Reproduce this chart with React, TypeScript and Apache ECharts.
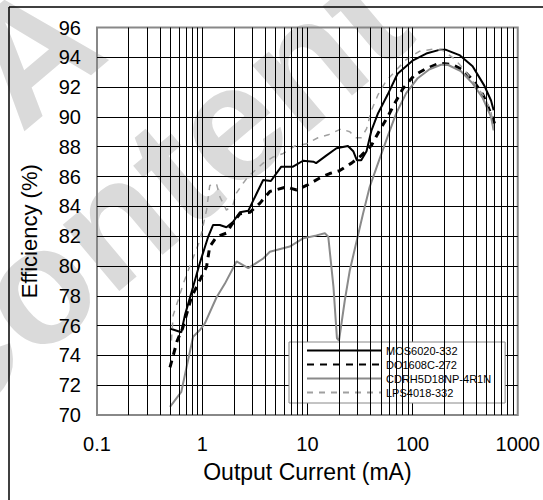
import React, { useEffect, useRef } from "react";
import * as echarts from "echarts";

const yTicks = { min: 70, max: 96, interval: 2 };
const xRange = { min: 0.1, max: 1000 };
const minorTickValues = [
  0.2, 0.3, 0.4, 0.5, 0.6, 0.7, 0.8, 0.9,
  2, 3, 4, 5, 6, 7, 8, 9,
  20, 30, 40, 50, 60, 70, 80, 90,
  200, 300, 400, 500, 600, 700, 800, 900,
];

const seriesNames = ["MOS6020-332", "DO1608C-272", "CDRH5D18NP-4R1N", "LPS4018-332"];

const mosX = [0.494, 0.633, 0.685, 0.82, 0.95, 1.14, 1.27, 1.47, 1.7, 1.96, 2.28, 2.74, 3.8, 4.5, 5.65, 7.3, 9.1, 11.4, 12.1, 15.1, 18.9, 24.3, 27.3, 29.5, 32.5, 36.5, 40.7, 47, 58, 72, 101, 135, 180, 208, 279, 372, 481, 557, 590];
const mosY = [75.8, 75.55, 76.7, 78.6, 80.2, 81.96, 82.75, 82.75, 82.6, 82.95, 83.6, 83.7, 85.77, 85.7, 86.66, 86.66, 87.06, 87.0, 86.9, 87.4, 87.9, 88.05, 87.7, 87.1, 87.1, 87.7, 89.1, 90.25, 91.5, 92.9, 93.8, 94.25, 94.5, 94.5, 94.15, 93.4, 92.1, 91.1, 90.45];

const doX = [0.494, 0.58, 0.65, 0.79, 1.1, 1.18, 1.37, 1.7, 1.9, 2.28, 2.84, 3.53, 4.4, 6.3, 7.9, 9.8, 13.1, 16.3, 20.3, 26.3, 32.5, 40.7, 48.6, 58, 67.5, 81, 104, 135, 180, 241, 302, 372, 466, 557, 610];
const doY = [73.2, 75.0, 75.8, 77.9, 79.95, 81.3, 81.96, 82.2, 82.75, 83.5, 83.6, 84.2, 85.0, 85.3, 85.1, 85.4, 85.9, 86.2, 86.4, 86.9, 87.4, 88.1, 89.1, 90.0, 90.9, 91.9, 92.8, 93.25, 93.6, 93.5, 93.15, 92.5, 91.5, 90.2, 89.45];

const cdX = [0.494, 0.633, 0.71, 0.82, 0.95, 1.06, 1.37, 1.64, 2.12, 2.74, 3.8, 4.4, 6.8, 9.1, 12.2, 14.65, 15.8, 17.7, 19.1, 20.0, 22.7, 25.3, 33.8, 39.1, 47, 58, 70, 87, 112, 145, 186, 216, 290, 372, 466, 557, 590];
const cdY = [70.55, 71.55, 73.2, 75.25, 75.7, 76.15, 77.9, 78.8, 80.3, 79.85, 80.5, 80.95, 81.3, 81.85, 82.05, 82.2, 81.96, 78.6, 75.15, 75.0, 77.7, 79.7, 83.5, 85.3, 86.9, 88.7, 90.25, 91.6, 92.6, 93.2, 93.5, 93.5, 93.05, 92.25, 91.25, 90.0, 89.1];

const lpsX = [0.51, 0.53, 0.59, 0.66, 0.76, 0.95, 1.1, 1.18, 1.37, 1.47, 1.7, 1.96, 2.12, 2.45, 2.74, 3.8, 4.7, 5.9, 7.6, 9.8, 12.6, 15.8, 21, 25.3, 29, 32.5, 36.5, 40.7, 47, 56, 70, 87, 116, 158, 195, 250, 311, 387, 481, 557, 598];
const lpsY = [75.0, 76.7, 77.7, 78.8, 79.95, 81.7, 83.75, 85.4, 85.5, 84.65, 83.75, 84.1, 84.9, 85.55, 86.0, 86.9, 87.3, 87.55, 88.05, 88.2, 88.6, 88.8, 89.2, 89.0, 88.6, 88.6, 89.2, 90.45, 91.5, 92.4, 93.15, 93.85, 94.4, 94.55, 94.45, 93.9, 93.15, 92.25, 91.35, 90.35, 88.9];

const xTitle = "Output Current (mA)";
const yTitle = "Efficiency (%)";

const pair = (xs: number[], ys: number[]) => xs.map((x, i) => [x, ys[i]]);

const FONT = "Liberation Sans, Arial, sans-serif";

export default function App() {
  const ref = useRef<HTMLDivElement>(null);
  useEffect(() => {
    if (!ref.current) return;
    const chart = echarts.init(ref.current, null, { renderer: "svg" });
    const line = (name: string, data: number[][], color: string, width: number, type: any) => ({
      name,
      type: "line",
      data,
      symbol: "none",
      z: 3,
      lineStyle: { color, width, type },
      itemStyle: { color },
    });
    chart.setOption({
      animation: false,
      backgroundColor: "#fff",
      textStyle: { fontFamily: FONT },
      graphic: {
        elements: [
          {
            type: "text",
            x: 144,
            y: 196,
            rotation: 0.7,
            z: -10,
            silent: true,
            style: { text: "Content", fill: "#dadada", font: "bold 165px " + FONT, align: "center", verticalAlign: "middle" },
          },
          {
            type: "text",
            x: 30,
            y: 52,
            rotation: 0.7,
            z: -10,
            silent: true,
            style: { text: "A", fill: "#dadada", font: "bold 165px " + FONT, align: "center", verticalAlign: "middle" },
          },
          { type: "line", z: 10, shape: { x1: 9, y1: 7, x2: 543, y2: 7 }, style: { stroke: "#000", lineWidth: 1.5 } },
          { type: "line", z: 10, shape: { x1: 9, y1: 7, x2: 9, y2: 500 }, style: { stroke: "#000", lineWidth: 1.5 } },
        ],
      },
      grid: {
        left: 97,
        right: 25,
        top: 27.5,
        bottom: 85,
        show: true,
        borderColor: "#888",
        borderWidth: 2,
        backgroundColor: "transparent",
      },
      legend: {
        orient: "vertical",
        left: 289,
        top: 342,
        itemWidth: 74,
        itemHeight: 11,
        itemGap: 3,
        padding: [3, 14, 5, 17],
        backgroundColor: "#fff",
        borderColor: "#888",
        borderWidth: 1,
        data: seriesNames,
        itemStyle: { color: "transparent", borderColor: "transparent", borderWidth: 0, opacity: 0 },
        textStyle: { fontFamily: FONT, fontSize: 11, color: "#000" },
      },
      xAxis: {
        type: "log",
        logBase: 10,
        min: xRange.min,
        max: xRange.max,
        name: xTitle,
        nameLocation: "middle",
        nameGap: 45,
        nameTextStyle: { fontSize: 23, color: "#000", fontFamily: FONT },
        axisLine: { show: false },
        axisTick: { show: false },
        axisLabel: {
          fontSize: 20,
          color: "#000",
          margin: 19,
          fontFamily: FONT,
          formatter: (v: number) => (v < 1 ? v.toFixed(1) : String(Math.round(v))),
        },
        splitLine: { show: true, showMinLine: false, showMaxLine: false, lineStyle: { color: "#000", width: 1 } },
      },
      yAxis: {
        type: "value",
        min: yTicks.min,
        max: yTicks.max,
        interval: yTicks.interval,
        name: yTitle,
        nameLocation: "middle",
        nameGap: 57,
        nameTextStyle: { fontSize: 22, color: "#000", fontFamily: FONT, padding: [0, 20, 0, 0] },
        axisLine: { show: false },
        axisTick: { show: false },
        axisLabel: { fontSize: 20, color: "#000", margin: 16, fontFamily: FONT },
        splitLine: { show: true, showMinLine: false, showMaxLine: false, lineStyle: { color: "#000", width: 1 } },
      },
      series: [
        {
          type: "line",
          data: [],
          z: 1,
          silent: true,
          markLine: {
            silent: true,
            symbol: ["none", "none"],
            label: { show: false },
            lineStyle: { color: "#000", width: 1, type: "solid" },
            emphasis: { disabled: true },
            data: minorTickValues.map((v) => ({ xAxis: v })),
          },
        },
        line(seriesNames[0], pair(mosX, mosY), "#000", 2, "solid"),
        line(seriesNames[1], pair(doX, doY), "#000", 3, [7, 6]),
        line(seriesNames[2], pair(cdX, cdY), "#8a8a8a", 2, "solid"),
        line(seriesNames[3], pair(lpsX, lpsY), "#a0a0a0", 1.5, [6, 6]),
      ],
    });
    return () => chart.dispose();
  }, []);
  return <div ref={ref} style={{ position: "absolute", left: 0, top: 0, width: 543, height: 500 }} />;
}
